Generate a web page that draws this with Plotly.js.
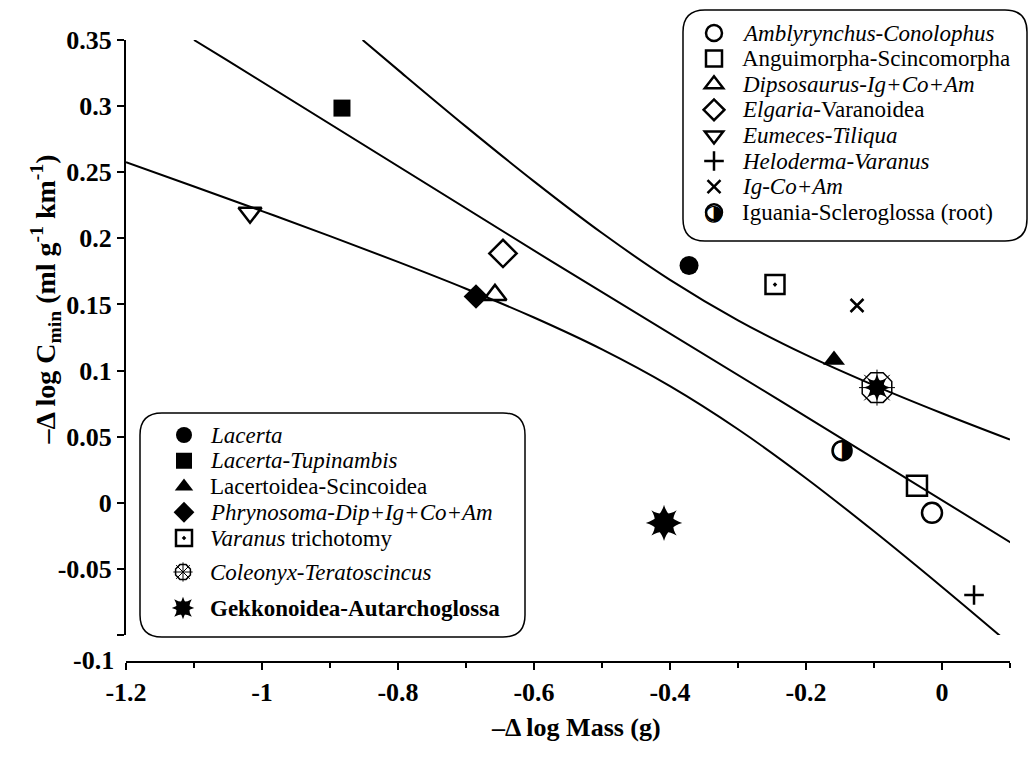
<!DOCTYPE html>
<html><head><meta charset="utf-8">
<script src="https://cdn.plot.ly/plotly-3.0.1.min.js"></script>
<style>html,body{margin:0;padding:0;background:#fff}</style>
</head><body><div id="chart" style="width:1031px;height:758px"></div>
<script>
// ---- Data ----
// regression line (-Δ log Cmin on -Δ log Mass) and its confidence bands
const fitX   = [-1.10, -1.0515, -0.5765, -0.2382, 0.1044];
const fitY   = [0.35, 0.3348, 0.1833, 0.0773, -0.0311];
const upperX = [-0.852, -0.8, -0.7, -0.6, -0.5, -0.4, -0.3, -0.2, -0.1, 0, 0.1];
const upperY = [0.35, 0.3274, 0.2845, 0.2431, 0.204, 0.1686, 0.138, 0.1118, 0.0888, 0.0677, 0.0478];
const lowerX = [-1.2, -1.1, -1.0, -0.9, -0.8, -0.7, -0.6, -0.5, -0.4, -0.3, -0.2, -0.1, 0, 0.1];
const lowerY = [0.2576, 0.2392, 0.2206, 0.2017, 0.1822, 0.1619, 0.1401, 0.116, 0.0882, 0.0556, 0.0186, -0.0216, -0.0637, -0.107];

// contrasts (labels, x = -Δ log Mass, y = -Δ log Cmin)
const taxa = [
  '<i>Amblyrynchus-Conolophus</i>',
  'Anguimorpha-Scincomorpha',
  '<i>Dipsosaurus-Ig+Co+Am</i>',
  '<i>Elgaria</i>-Varanoidea',
  '<i>Eumeces-Tiliqua</i>',
  '<i>Heloderma-Varanus</i>',
  '<i>Ig-Co+Am</i>',
  'Iguania-Scleroglossa (root)',
  '<i>Lacerta</i>',
  '<i>Lacerta-Tupinambis</i>',
  'Lacertoidea-Scincoidea',
  '<i>Phrynosoma-Dip+Ig+Co+Am</i>',
  '<i>Varanus</i> trichotomy',
  '<i>Coleonyx-Teratoscincus</i>',
  '<b>Gekkonoidea-Autarchoglossa</b>'
];
const massX = [-0.0147, -0.0368, -0.6574, -0.6456, -1.0176, 0.0471, -0.125, -0.147,
               -0.372, -0.8824, -0.1588, -0.6853, -0.2456, -0.0956, -0.4088];
const cminY = [-0.0076, 0.0129, 0.1572, 0.1886, 0.2193, -0.0697, 0.1492, 0.0394,
               0.1795, 0.2985, 0.108, 0.156, 0.165, 0.0871, -0.0152];

const xTickVals = [-1.2, -1, -0.8, -0.6, -0.4, -0.2, 0];
const xTickText = ['-1.2', '-1', '-0.8', '-0.6', '-0.4', '-0.2', '0'];
const yTickVals = [-0.1, -0.05, 0, 0.05, 0.1, 0.15, 0.2, 0.25, 0.3, 0.35];
const yTickText = [' ', '-0.05', '0', '0.05', '0.1', '0.15', '0.2', '0.25', '0.3', '0.35'];

// ---- Styles ----
const serif = 'Liberation Serif, Times New Roman, serif';
const styles = [
  {symbol: 'circle-open', size: 20, legend: 'legend'},
  {symbol: 'square-open', size: 20, legend: 'legend'},
  {symbol: 'triangle-up-open', size: 20, legend: 'legend'},
  {symbol: 'diamond-open', size: 21, legend: 'legend'},
  {symbol: 'triangle-down-open', size: 20, legend: 'legend'},
  {symbol: 'cross-thin-open', size: 14, legend: 'legend'},
  {symbol: 'x-thin-open', size: 13, legend: 'legend'},
  {symbol: 'circle-open', size: 19, legend: 'legend', half: true},
  {symbol: 'circle', size: 19, legend: 'legend2'},
  {symbol: 'square', size: 17, legend: 'legend2'},
  {symbol: 'triangle-up', size: 19, legend: 'legend2'},
  {symbol: 'diamond', size: 19, legend: 'legend2'},
  {symbol: 'square-open-dot', size: 19, legend: 'legend2'},
  {symbol: 'octagon-open', size: 32, legend: 'legend3', coleonyx: true},
  {symbol: 'star-diamond', size: 26, legend: 'legend3', gekko: true}
];

// legend row geometry (pixels): first row centre, row step, symbol x, label x
const legendRows = {
  legend:  {y0: 33,  step: 25.6, symX: 713, textX: 740},
  legend2: {y0: 435, step: 25.75, symX: 183, textX: 208},
  legend3: {y0: 572, step: 36,  symX: 182, textX: 208},
  legend4: {y0: 572, step: 36,  symX: 182, textX: 208},   // overlay key: Coleonyx spokes
  legend5: {y0: 608, step: 36,  symX: 182, textX: 208}    // overlay key: Gekkonoidea star
};

const traces = [];
const lineStyle = {color: 'black', width: 2};
traces.push({x: lowerX, y: lowerY, mode: 'lines', line: Object.assign({shape: 'spline', smoothing: 1}, lineStyle), showlegend: false, hoverinfo: 'skip'});
traces.push({x: fitX, y: fitY, mode: 'lines', line: lineStyle, showlegend: false, hoverinfo: 'skip'});
traces.push({x: upperX, y: upperY, mode: 'lines', line: Object.assign({shape: 'spline', smoothing: 1}, lineStyle), showlegend: false, hoverinfo: 'skip'});

taxa.forEach((name, i) => {
  const s = styles[i];
  const isOpen = s.symbol.indexOf('open') >= 0;
  traces.push({
    x: [massX[i]], y: [cminY[i]], mode: 'markers', name: ' ', legend: s.legend,
    marker: {symbol: s.symbol, size: s.size, color: 'black',
             line: {color: 'black', width: isOpen ? (s.coleonyx ? 1.5 : 2.5) : 0}}
  });
  if (s.half) {
    traces.push({x: [massX[i]], y: [cminY[i]], mode: 'text', text: ['\u25D1'], textposition: 'middle center',
      textfont: {family: 'DejaVu Sans', size: 26, color: 'black'}, showlegend: false, hoverinfo: 'skip'});
  }
  if (s.coleonyx) {
    traces.push({x: [massX[i]], y: [cminY[i]], mode: 'markers', name: ' ', legend: 'legend4', showlegend: true, hoverinfo: 'skip',
      marker: {symbol: 'asterisk-open', size: 30, color: 'black', line: {color: 'black', width: 1}}});
    traces.push({x: [massX[i]], y: [cminY[i]], mode: 'markers', showlegend: false, hoverinfo: 'skip',
      marker: {symbol: 'star-diamond', size: 19, color: 'black', line: {width: 0}}});
    traces.push({x: [massX[i]], y: [cminY[i]], mode: 'markers', showlegend: false, hoverinfo: 'skip',
      marker: {symbol: 'star-square', size: 17, color: 'black', line: {width: 0}}});
  }
  if (s.gekko) {
    traces.push({x: [massX[i]], y: [cminY[i]], mode: 'markers', name: ' ', legend: 'legend5', showlegend: true, hoverinfo: 'skip',
      marker: {symbol: 'star-square', size: 23, color: 'black', line: {width: 0}}});
  }
});

// pixel -> paper helpers
const L = 126, R = 1010, T = 40, B = 662;
function px2x(p) { return (p - L) / (R - L); }
function px2y(p) { return (B - p) / (B - T); }
function roundBox(x0, y0, x1, y1, r) {
  const f = (a, b) => px2x(a).toFixed(5) + ',' + px2y(b).toFixed(5);
  return 'M' + f(x0 + r, y0) + ' L' + f(x1 - r, y0) + ' Q' + f(x1, y0) + ' ' + f(x1, y0 + r) +
         ' L' + f(x1, y1 - r) + ' Q' + f(x1, y1) + ' ' + f(x1 - r, y1) +
         ' L' + f(x0 + r, y1) + ' Q' + f(x0, y1) + ' ' + f(x0, y1 - r) +
         ' L' + f(x0, y0 + r) + ' Q' + f(x0, y0) + ' ' + f(x0 + r, y0) + ' Z';
}

const tickFont = {family: serif, size: 26, color: 'black', weight: 'bold'};
const labelFont = {family: serif, size: 23, color: 'black'};

// legend containers: font size only sets the row step (step = 1.3*size + 3)
function legendBox(key) {
  const g = legendRows[key];
  const fs = (g.step - 3) / 1.3;
  return {x: px2x(g.symX - 19), y: px2y(g.y0 - 5 - g.step / 2), xanchor: 'left', yanchor: 'top',
    bgcolor: 'rgba(0,0,0,0)', borderwidth: 0, font: {family: serif, size: fs, color: 'black'},
    itemsizing: 'trace', tracegroupgap: 0};
}

// legend labels as text next to the legend symbols
const counters = {legend: 0, legend2: 0, legend3: 0};
const legendLabels = taxa.map((name, i) => {
  const key = styles[i].legend, g = legendRows[key];
  const row = counters[key]++;
  return {xref: 'paper', yref: 'paper', x: px2x(g.textX), y: px2y(g.y0 + row * g.step),
    xanchor: 'left', yanchor: 'middle', text: name, showarrow: false, font: labelFont};
});
// half-filled key for the root contrast
const halfKey = {xref: 'paper', yref: 'paper', x: px2x(legendRows.legend.symX),
  y: px2y(legendRows.legend.y0 + 7 * legendRows.legend.step), xanchor: 'center', yanchor: 'middle',
  text: '\u25D1', showarrow: false, font: {family: 'DejaVu Sans', size: 22, color: 'black'}};

const layout = {
  width: 1031, height: 758,
  margin: {l: L, r: 1031 - R, t: T, b: 758 - B},
  paper_bgcolor: 'white', plot_bgcolor: 'white',
  showlegend: true,
  xaxis: {
    range: [-1.2, 0.1], anchor: 'free', position: 0,
    tickvals: xTickVals, ticktext: xTickText,
    ticks: 'outside', ticklen: 7, tickwidth: 2, tickcolor: 'black',
    minor: {dtick: 0.1, tick0: -1.2, ticks: 'outside', ticklen: 5, tickwidth: 2, tickcolor: 'black'},
    showline: true, linewidth: 2, linecolor: 'black', showgrid: false, zeroline: false,
    tickfont: tickFont
  },
  yaxis: {
    range: [-0.1, 0.35], domain: [(B - 635) / (B - T), 1],
    tickvals: yTickVals, ticktext: yTickText,
    ticks: 'outside', ticklen: 7, tickwidth: 2, tickcolor: 'black',
    showline: true, linewidth: 2, linecolor: 'black', showgrid: false, zeroline: false,
    tickfont: tickFont
  },
  legend: legendBox('legend'),
  legend2: legendBox('legend2'),
  legend3: legendBox('legend3'),
  legend4: legendBox('legend4'),
  legend5: legendBox('legend5'),
  shapes: [
    {type: 'path', xref: 'paper', yref: 'paper', path: roundBox(683, 10, 1027, 241, 22), line: {color: 'black', width: 1.5}, fillcolor: 'rgba(0,0,0,0)'},
    {type: 'path', xref: 'paper', yref: 'paper', path: roundBox(140, 413, 525, 637, 22), line: {color: 'black', width: 1.5}, fillcolor: 'rgba(0,0,0,0)'}
  ],
  annotations: [
    {xref: 'paper', yref: 'paper', x: px2x(24), y: px2y(300), text: '\u2013\u0394 log C<sub>min</sub> (ml g<sup>-1</sup> km<sup>-1</sup>)',
     textangle: -90, showarrow: false, font: {family: serif, size: 28, color: 'black', weight: 'bold'}},
    {xref: 'paper', yref: 'paper', x: px2x(116), y: px2y(660), xanchor: 'right', yanchor: 'middle', text: '-0.1',
     showarrow: false, font: tickFont},
    {xref: 'paper', yref: 'paper', x: px2x(576), y: px2y(727), xanchor: 'center', yanchor: 'middle', text: '\u2013\u0394 log Mass (g)',
     showarrow: false, font: {family: serif, size: 26, color: 'black', weight: 'bold'}}
  ].concat(legendLabels, [halfKey])
};

Plotly.newPlot('chart', traces, layout, {displayModeBar: false, staticPlot: true});
</script></body></html>
